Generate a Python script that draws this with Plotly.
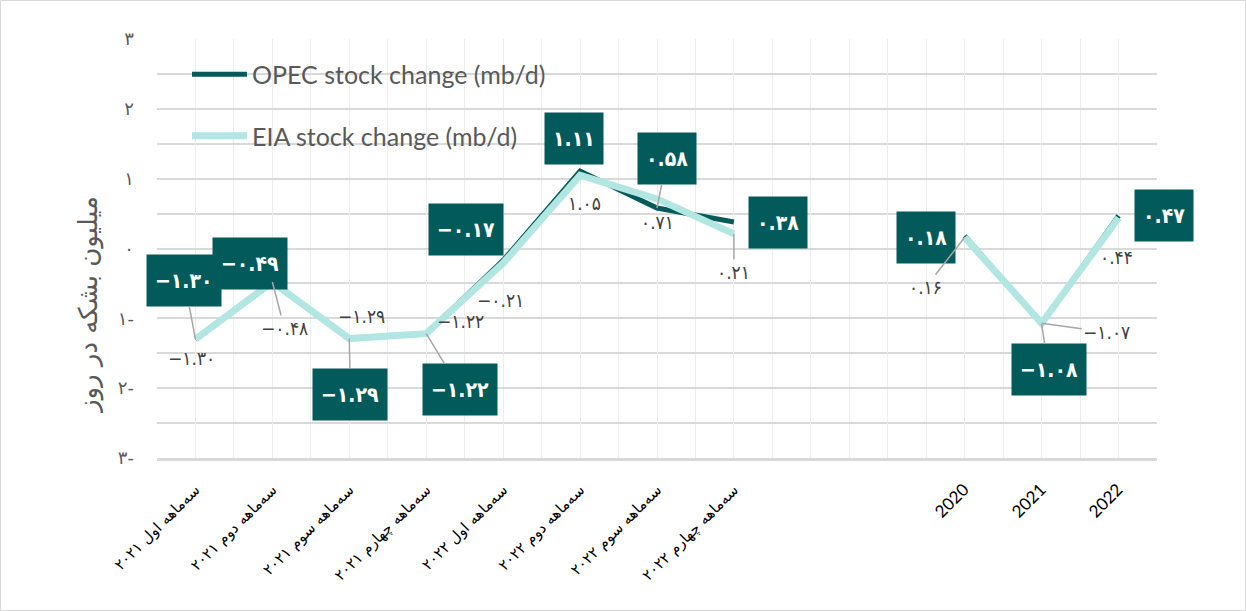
import plotly.graph_objects as go

# category labels (two empty slots separate quarterly and yearly data)
categories = ["سه‌ماهه اول ۲۰۲۱", "سه‌ماهه دوم ۲۰۲۱", "سه‌ماهه سوم ۲۰۲۱", "سه‌ماهه چهارم ۲۰۲۱",
              "سه‌ماهه اول ۲۰۲۲", "سه‌ماهه دوم ۲۰۲۲", "سه‌ماهه سوم ۲۰۲۲", "سه‌ماهه چهارم ۲۰۲۲",
              "", "", "2020", "2021", "2022"]

opec_change = [-1.30, -0.49, -1.29, -1.22, -0.17, 1.11, 0.58, 0.38, None, None, 0.18, -1.08, 0.47]
eia_change = [-1.30, -0.48, -1.29, -1.22, -0.21, 1.05, 0.71, 0.21, None, None, 0.16, -1.07, 0.44]

y_tick_vals = [-3, -2, -1, 0, 1, 2, 3]
y_tick_text = ["۳-", "۲-", "۱-", "۰", "۱", "۲", "۳"]

# label placement (pixel offsets from point) and whether a leader line is drawn
opec_offsets = [(-11, -59), (-22, -19), (1, 56), (34, 56), (-37, -31), (-6, -32), (10, -50), (44, 1),
                None, None, (-39, 2), (7, 46), (45, 0)]
opec_leader = [1, 0, 1, 1, 0, 0, 1, 0, 0, 0, 0, 1, 0]
eia_offsets = [(-4, 19), (12, 46), (12, -23), (34, -13), (-3, 37), (4, 28), (0, 23), (0, 38),
               None, None, (-39, 50), (65, 9), (-2, 39)]
eia_leader = [0, 1, 0, 0, 0, 0, 0, 1, 0, 0, 1, 1, 0]

DARK = "#035A5A"
LIGHT = "#B2E6E3"
GREY = "#595959"
FA_DIGITS = str.maketrans("0123456789-", "۰۱۲۳۴۵۶۷۸۹−")


def to_fa(v):
    return f"{v:.2f}".translate(FA_DIGITS)


x = list(range(len(categories)))
ticktext = []
for c in categories:
    if c.isdigit():
        ticktext.append(f'<span style="font-family:Lato;font-size:17px">{c}</span>')
    else:
        ticktext.append(c)

fig = go.Figure()
fig.add_trace(go.Scatter(x=x, y=opec_change, mode="lines", name="OPEC stock change (mb/d)",
                         line=dict(color=DARK, width=5), legendgroup="opec", connectgaps=False))
fig.add_trace(go.Scatter(x=x, y=eia_change, mode="lines", name="EIA stock change (mb/d)",
                         line=dict(color=LIGHT, width=7), legendgroup="eia", connectgaps=False))

annotations = []
for i, v in enumerate(opec_change):
    if v is None:
        continue
    ax, ay = opec_offsets[i]
    annotations.append(dict(
        x=i, y=v, ax=ax, ay=ay, text=to_fa(v), showarrow=True, arrowhead=0, arrowwidth=1.5,
        arrowcolor="#A6A6A6" if opec_leader[i] else "rgba(0,0,0,0)",
        bgcolor=DARK, borderpad=8, height=35,
        font=dict(family="DejaVu Sans Condensed", size=21, color="white", weight="bold")))
for i, v in enumerate(eia_change):
    if v is None:
        continue
    ax, ay = eia_offsets[i]
    annotations.append(dict(
        x=i, y=v, ax=ax, ay=ay, text=to_fa(v), showarrow=True, arrowhead=0, arrowwidth=1.5,
        arrowcolor="#A6A6A6" if eia_leader[i] else "rgba(0,0,0,0)",
        font=dict(family="DejaVu Sans Condensed", size=19, color="#404040")))

annotations.append(dict(
    text="میلیون بشکه در روز", textangle=-90, xref="paper", yref="paper",
    x=-0.069, y=0.365, xanchor="center", yanchor="middle", showarrow=False,
    font=dict(family="DejaVu Sans", size=26, color=GREY)))

fig.update_layout(
    width=1246, height=611,
    margin=dict(l=157, r=89, t=39, b=153),
    paper_bgcolor="white", plot_bgcolor="white",
    showlegend=True,
    legend=dict(x=0.030, y=0.97, xanchor="left", yanchor="top", bgcolor="rgba(0,0,0,0)",
                itemwidth=55, tracegroupgap=26, font=dict(family="Lato", size=25, color=GREY)),
    annotations=annotations,
    shapes=[dict(type="rect", xref="paper", yref="paper", x0=-0.1565, x1=1.0885,
                 y0=-0.364, y1=1.0919, line=dict(color="#D9D9D9", width=1))],
)
fig.update_xaxes(
    range=[-0.5, 12.5], tickmode="array", tickvals=x, ticktext=ticktext, tickangle=-45,
    tickfont=dict(family="DejaVu Sans", size=15, color="black"),
    showgrid=True, gridcolor="#EDEDED", gridwidth=1,
    minor=dict(tickvals=[i - 0.5 for i in range(14)], showgrid=True, gridcolor="#EDEDED"),
    showline=True, linecolor="#D9D9D9", linewidth=3, zeroline=False, ticks="",
    ticklabelstandoff=14,
)
fig.update_yaxes(
    range=[-3, 3], tickmode="array", tickvals=y_tick_vals, ticktext=y_tick_text,
    tickfont=dict(family="DejaVu Sans", size=18, color=GREY),
    showgrid=True, gridcolor="#D9D9D9", gridwidth=1.5,
    minor=dict(dtick=0.5, tick0=0, showgrid=True, gridcolor="#D9D9D9"),
    zeroline=False, showline=False, ticks="", ticklabelstandoff=22,
)

fig.write_html("out.html", config={"displayModeBar": False},
               post_script="document.body.style.margin='0';")
